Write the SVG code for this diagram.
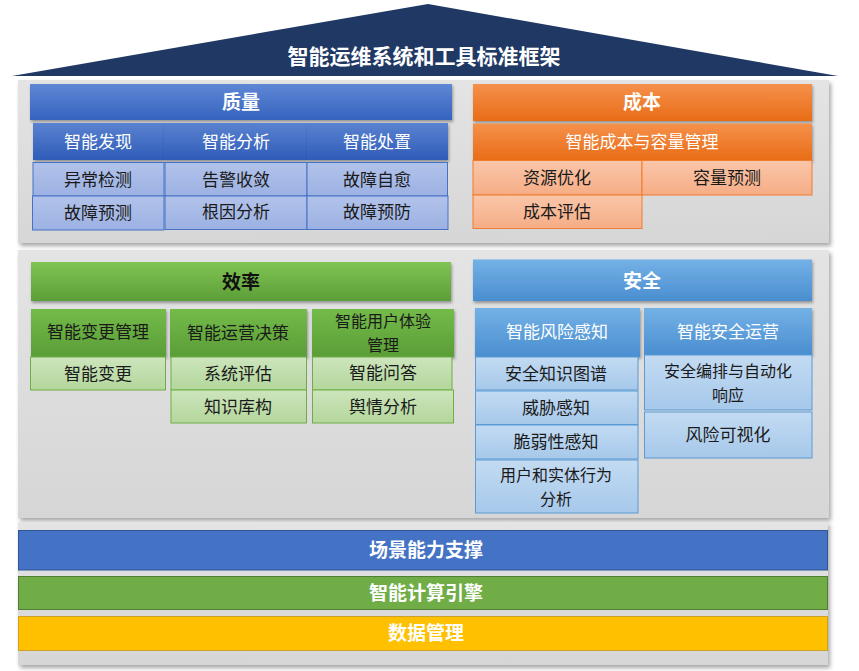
<svg xmlns="http://www.w3.org/2000/svg" width="859" height="671" viewBox="0 0 859 671">
<defs>
<linearGradient id="gBlueH" x1="0" y1="0" x2="0" y2="1"><stop offset="0" stop-color="#5f87d4"/><stop offset="1" stop-color="#3563bf"/></linearGradient>
<linearGradient id="gBlueS" x1="0" y1="0" x2="0" y2="1"><stop offset="0" stop-color="#5a82d0"/><stop offset="1" stop-color="#2f5cb8"/></linearGradient>
<linearGradient id="gBlueC" x1="0" y1="0" x2="0" y2="1"><stop offset="0" stop-color="#b2c3ea"/><stop offset="1" stop-color="#9cb1e3"/></linearGradient>
<linearGradient id="gOrH" x1="0" y1="0" x2="0" y2="1"><stop offset="0" stop-color="#f5914b"/><stop offset="1" stop-color="#e96c17"/></linearGradient>
<linearGradient id="gOrC" x1="0" y1="0" x2="0" y2="1"><stop offset="0" stop-color="#fac6a9"/><stop offset="1" stop-color="#f5ad86"/></linearGradient>
<linearGradient id="gGrH" x1="0" y1="0" x2="0" y2="1"><stop offset="0" stop-color="#80c455"/><stop offset="1" stop-color="#5c9e37"/></linearGradient>
<linearGradient id="gGrS" x1="0" y1="0" x2="0" y2="1"><stop offset="0" stop-color="#74bb4a"/><stop offset="1" stop-color="#5a9d36"/></linearGradient>
<linearGradient id="gGrC" x1="0" y1="0" x2="0" y2="1"><stop offset="0" stop-color="#cde5bd"/><stop offset="1" stop-color="#b3d79b"/></linearGradient>
<linearGradient id="gSkH" x1="0" y1="0" x2="0" y2="1"><stop offset="0" stop-color="#74b1e6"/><stop offset="1" stop-color="#4a8ed0"/></linearGradient>
<linearGradient id="gSkC" x1="0" y1="0" x2="0" y2="1"><stop offset="0" stop-color="#c3dbf2"/><stop offset="1" stop-color="#a6c8ea"/></linearGradient>
<linearGradient id="gPanel" x1="0" y1="0" x2="0" y2="1"><stop offset="0" stop-color="#e4e4e4"/><stop offset="1" stop-color="#d6d6d6"/></linearGradient>
<filter id="shP" x="-5%" y="-5%" width="110%" height="115%"><feDropShadow dx="2" dy="3" stdDeviation="2" flood-color="#000" flood-opacity="0.35"/></filter>
<filter id="shH" x="-5%" y="-20%" width="110%" height="150%"><feDropShadow dx="1" dy="2" stdDeviation="1.5" flood-color="#000" flood-opacity="0.35"/></filter>
</defs>
<style>
text{font-family:"Noto Sans CJK SC","Noto Sans",sans-serif;text-anchor:middle;dominant-baseline:central}
.t{font-size:21px;font-weight:bold;fill:#fff}
.h{font-size:19px;font-weight:bold;fill:#fff}
.hd{font-size:19px;font-weight:bold;fill:#111}
.s{font-size:17px;fill:#fff}
.sd{font-size:17px;fill:#1a1a1a}
.c{font-size:17px;fill:#1a1a1a}
.two{font-size:16px}
.panel{fill:url(#gPanel);filter:url(#shP)}
.bH{fill:url(#gBlueH);filter:url(#shH)}
.bS{fill:url(#gBlueS);filter:url(#shH)}
.bC{fill:url(#gBlueC);stroke:#4472c4;stroke-width:1}
.oH{fill:url(#gOrH);filter:url(#shH)}
.oC{fill:url(#gOrC);stroke:#ed7d31;stroke-width:1}
.gH{fill:url(#gGrH);filter:url(#shH)}
.gS{fill:url(#gGrS);filter:url(#shH)}
.gC{fill:url(#gGrC);stroke:#70ad47;stroke-width:1}
.kH{fill:url(#gSkH);filter:url(#shH)}
.kC{fill:url(#gSkC);stroke:#5b9bd5;stroke-width:1}
</style>

<g id="roof">
<polygon points="428,4 12,76 838,76" fill="#203864"/>
<text class="t" x="424" y="55">智能运维系统和工具标准框架</text>
</g>

<g id="panels">
<rect class="panel" x="18" y="80" width="811" height="163"/>
<rect class="panel" x="18" y="250" width="811" height="268"/>
<rect class="panel" x="18" y="522" width="810" height="143"/>
</g>

<g id="quality">
<rect class="bH" x="30" y="84" width="422" height="36"/>
<text class="h" x="241" y="100">质量</text>
<g id="q-discover"><rect class="bS" x="33" y="123" width="131" height="37"/><text class="s" x="98" y="140">智能发现</text></g>
<g id="q-analyze"><rect class="bS" x="164" y="123" width="143" height="37"/><text class="s" x="236" y="140">智能分析</text></g>
<g id="q-handle"><rect class="bS" x="307" y="123" width="141" height="37"/><text class="s" x="377" y="140">智能处置</text></g>
<g id="q-c1"><rect class="bC" x="33" y="162.5" width="131" height="33.5"/><text class="c" x="98" y="178">异常检测</text></g>
<g id="q-c2"><rect class="bC" x="32.5" y="196" width="131.5" height="34"/><text class="c" x="98" y="211">故障预测</text></g>
<g id="q-c3"><rect class="bC" x="165" y="162.5" width="142" height="33.5"/><text class="c" x="236" y="178">告警收敛</text></g>
<g id="q-c4"><rect class="bC" x="165" y="196" width="142" height="33.5"/><text class="c" x="236" y="210">根因分析</text></g>
<g id="q-c5"><rect class="bC" x="307" y="162.5" width="140.5" height="33.5"/><text class="c" x="377" y="178">故障自愈</text></g>
<g id="q-c6"><rect class="bC" x="307" y="196" width="141" height="33.5"/><text class="c" x="377" y="210">故障预防</text></g>
</g>

<g id="cost">
<rect class="oH" x="473" y="84" width="339" height="37"/>
<text class="h" x="642" y="100">成本</text>
<g id="c-mgmt"><rect class="oH" x="473" y="123.5" width="339" height="37"/><text class="s" x="642" y="140">智能成本与容量管理</text></g>
<g id="c-c1"><rect class="oC" x="473" y="160.5" width="169" height="34.5"/><text class="c" x="557" y="176">资源优化</text></g>
<g id="c-c2"><rect class="oC" x="642" y="160.5" width="170" height="34.5"/><text class="c" x="727" y="176">容量预测</text></g>
<g id="c-c3"><rect class="oC" x="473" y="195" width="169" height="33.5"/><text class="c" x="557" y="210">成本评估</text></g>
</g>

<g id="efficiency">
<rect class="gH" x="31" y="262" width="420" height="39"/>
<text class="hd" x="241" y="280">效率</text>
<g id="e-change"><rect class="gS" x="31" y="309" width="135" height="48"/><text class="sd" x="98" y="330">智能变更管理</text></g>
<g id="e-ops"><rect class="gS" x="170" y="309" width="137" height="48"/><text class="sd" x="238" y="331">智能运营决策</text></g>
<g id="e-ux"><rect class="gS" x="312" y="309" width="142" height="48"/><text class="sd two" x="383" y="320">智能用户体验<tspan x="383" dy="23.5">管理</tspan></text></g>
<g id="e-c1"><rect class="gC" x="30.5" y="357" width="135" height="33"/><text class="c" x="98" y="372">智能变更</text></g>
<g id="e-c2"><rect class="gC" x="171" y="357" width="135.5" height="33"/><text class="c" x="238" y="372">系统评估</text></g>
<g id="e-c3"><rect class="gC" x="171" y="390" width="135.5" height="33"/><text class="c" x="238" y="405">知识库构</text></g>
<g id="e-c4"><rect class="gC" x="312.5" y="357" width="139.5" height="33"/><text class="c" x="383" y="371">智能问答</text></g>
<g id="e-c5"><rect class="gC" x="312.5" y="390" width="141" height="33"/><text class="c" x="383" y="405">舆情分析</text></g>
</g>

<g id="security">
<rect class="kH" x="473" y="259.5" width="339" height="41.5"/>
<text class="h" x="642" y="279">安全</text>
<g id="s-risk"><rect class="kH" x="475" y="308" width="165" height="49"/><text class="s" x="557" y="330">智能风险感知</text></g>
<g id="s-ops"><rect class="kH" x="644" y="308" width="168" height="47"/><text class="s" x="728" y="330">智能安全运营</text></g>
<g id="s-c1"><rect class="kC" x="475.5" y="357" width="162.5" height="33"/><text class="c" x="556" y="372">安全知识图谱</text></g>
<g id="s-c2"><rect class="kC" x="475.5" y="391" width="162.5" height="33.5"/><text class="c" x="556" y="406">威胁感知</text></g>
<g id="s-c3"><rect class="kC" x="475.5" y="425" width="162.5" height="34"/><text class="c" x="556" y="440">脆弱性感知</text></g>
<g id="s-c4"><rect class="kC" x="475.5" y="460" width="162.5" height="53"/><text class="c two" x="556" y="474">用户和实体行为<tspan x="556" dy="23.5">分析</tspan></text></g>
<g id="s-c5"><rect class="kC" x="644.5" y="355" width="167.5" height="55"/><text class="c two" x="728" y="370">安全编排与自动化<tspan x="728" dy="23.5">响应</tspan></text></g>
<g id="s-c6"><rect class="kC" x="644.5" y="412" width="167.5" height="46"/><text class="c" x="728" y="433">风险可视化</text></g>
</g>

<g id="base">
<g id="b-scene"><rect x="18.5" y="530.5" width="809" height="39.5" fill="#4472c4" stroke="#2f5597" stroke-width="1"/><text class="h" x="426" y="548">场景能力支撑</text></g>
<g id="b-engine"><rect x="18.5" y="576.5" width="809" height="33" fill="#70ad47" stroke="#507e32" stroke-width="1"/><text class="h" x="426" y="591">智能计算引擎</text></g>
<g id="b-data"><rect x="18.5" y="616.5" width="809" height="34" fill="#ffc000" stroke="#c9a227" stroke-width="1"/><text class="h" x="426" y="631">数据管理</text></g>
</g>

<g id="connectors"></g>
</svg>
